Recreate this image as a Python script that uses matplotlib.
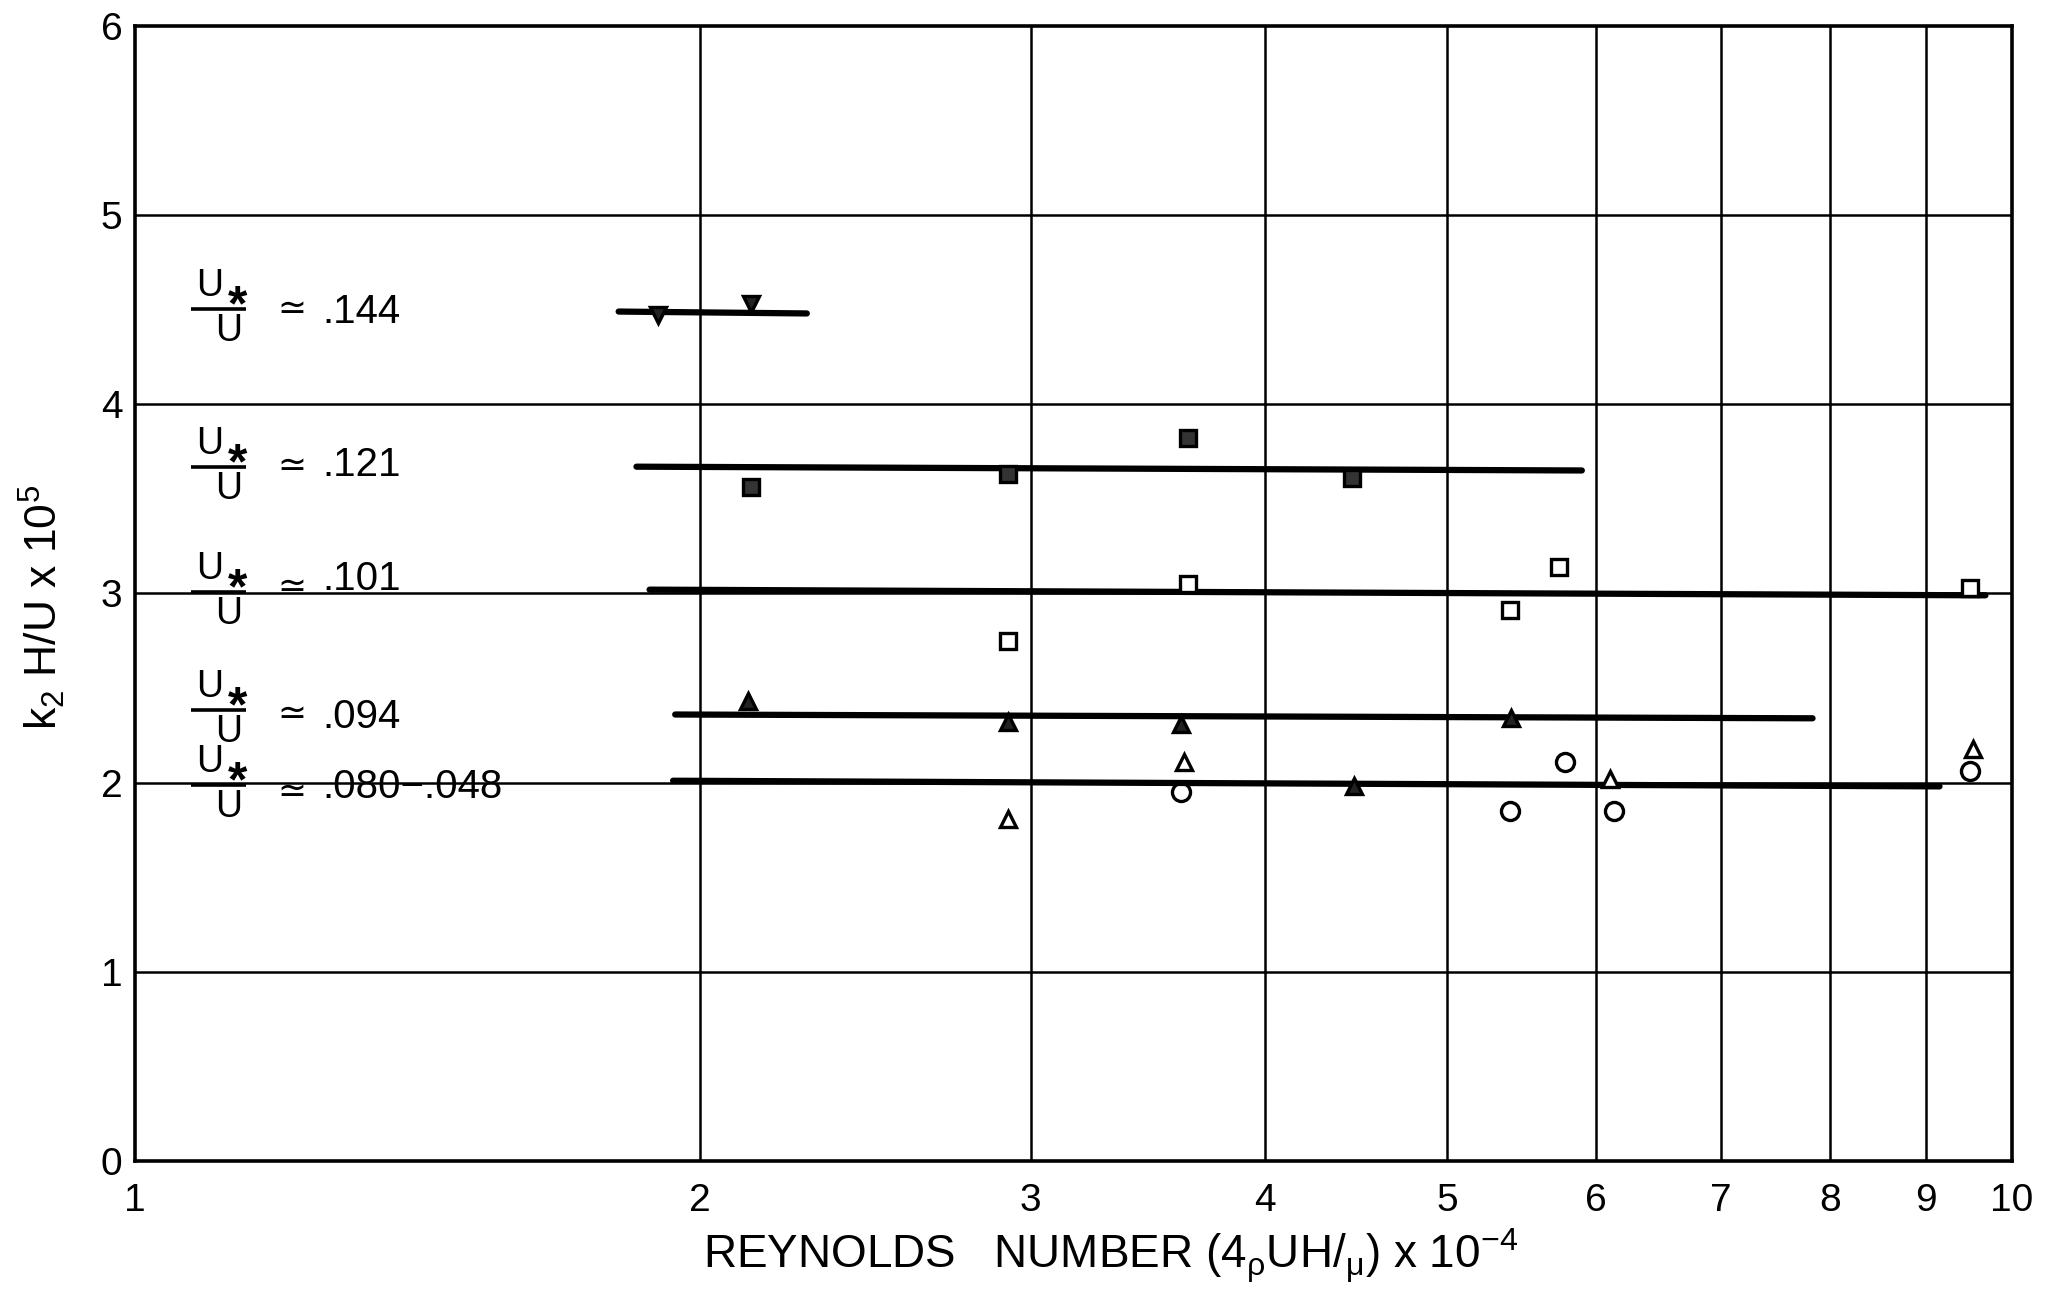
import numpy as np
import matplotlib
matplotlib.use('Agg')
import matplotlib.pyplot as plt

plt.rcParams['font.family'] = ['Liberation Sans', 'DejaVu Sans']
plt.rcParams['mathtext.fontset'] = 'custom'
plt.rcParams['mathtext.rm'] = 'Liberation Sans'
plt.rcParams['mathtext.it'] = 'Liberation Sans'
plt.rcParams['mathtext.bf'] = 'Liberation Sans:bold'
plt.rcParams['mathtext.fallback'] = 'stixsans'

# ── data ──
# U*/U ~ .144  (inverted triangles)
inv_tri_x = [1.90, 2.13]
inv_tri_y = [4.47, 4.53]
# U*/U ~ .121  (hatched squares)
hsq_x = [2.13, 2.92, 3.64, 4.45]
hsq_y = [3.56, 3.63, 3.82, 3.61]
# U*/U ~ .101  (open squares)
sq_x = [2.92, 3.64, 5.40, 5.74, 9.50]
sq_y = [2.75, 3.05, 2.91, 3.14, 3.03]
# U*/U ~ .094  (hatched triangles)
htri_x = [2.12, 2.92, 3.61, 5.41, 4.46]
htri_y = [2.43, 2.32, 2.31, 2.34, 1.98]
# U*/U ~ .080-.048  (open triangles + circles)
otri_x = [2.92, 3.62, 6.11, 9.53]
otri_y = [1.81, 2.11, 2.02, 2.18]
circ_x = [3.61, 5.40, 5.78, 6.14, 9.50]
circ_y = [1.95, 1.85, 2.11, 1.85, 2.06]

# hand-drawn mean lines
fit_x0 = [1.81, 1.85, 1.88, 1.94, 1.935]
fit_x1 = [2.28, 5.90, 9.68, 7.83, 9.15]
fit_y0 = [4.49, 3.67, 3.02, 2.36, 2.01]
fit_y1 = [4.48, 3.65, 2.99, 2.34, 1.98]

# U*/U labels: value text, height of fraction bar / text centre
ratio_labels = ['.144', '.121', '.101', '.094', '.080\u2212.048']
frac_bar_y = [4.506, 3.67, 3.01, 2.385, 1.99]
ratio_text_y = [4.50, 3.69, 3.09, 2.36, 1.99]
approx_y = [4.50, 3.67, 3.03, 2.36, 1.95]

x_ticks = [1, 2, 3, 4, 5, 6, 7, 8, 9, 10]
y_ticks = [0, 1, 2, 3, 4, 5, 6]

fig = plt.figure(figsize=(20.61, 12.95), dpi=100)
ax = fig.add_axes([0.0655, 0.1035, 0.9107, 0.8765])
ax.set_xscale('log')
ax.set_xlim(1, 10)
ax.set_ylim(0, 6)

for x in x_ticks[1:-1]:
    ax.axvline(x, color='black', lw=1.8, zorder=1)
for y in y_ticks[1:-1]:
    ax.axhline(y, color='black', lw=1.8, zorder=1)

for x0, x1, y0, y1 in zip(fit_x0, fit_x1, fit_y0, fit_y1):
    ax.plot([x0, x1], [y0, y1], color='black', lw=4.5, solid_capstyle='round', zorder=2)

ms_kw = dict(linestyle='none', markeredgecolor='black', markeredgewidth=2.4, zorder=3)
ax.plot(inv_tri_x, inv_tri_y, marker='v', markersize=12, markerfacecolor='#222222', **ms_kw)
ax.plot(hsq_x, hsq_y, marker='s', markersize=11, markerfacecolor='#333333', **ms_kw)
ax.plot(sq_x, sq_y, marker='s', markersize=11, markerfacecolor='white', **ms_kw)
ax.plot(htri_x, htri_y, marker='^', markersize=12, markerfacecolor='#222222', **ms_kw)
ax.plot(otri_x, otri_y, marker='^', markersize=12, markerfacecolor='white', **ms_kw)
ax.plot(circ_x, circ_y, marker='o', markersize=13, linestyle='none',
        markeredgecolor='black', markeredgewidth=2.4, zorder=3, fillstyle='none')

# U*/U labels on the left, built up by hand like the typed original
tr = ax.get_yaxis_transform()
for lab, yb, yt, ya in zip(ratio_labels, frac_bar_y, ratio_text_y, approx_y):
    ax.plot([0.030, 0.059], [yb, yb], transform=tr, color='black', lw=2.6,
            solid_capstyle='butt', clip_on=False)
    ax.text(0.040, yb + 0.065, 'U', transform=tr, ha='center', va='baseline', fontsize=27)
    ax.text(0.0545, yb + 0.008, '*', transform=tr, ha='center', va='center',
            fontsize=36, fontweight='bold')
    ax.text(0.050, yb - 0.172, 'U', transform=tr, ha='center', va='baseline', fontsize=27)
    ax.text(0.0835, ya, '\u2243', transform=tr, ha='center', va='center', fontsize=25)
    ax.text(0.100, yt - 0.07, lab, transform=tr, ha='left', va='baseline', fontsize=29)

ax.set_xticks(x_ticks)
ax.set_xticklabels([str(v) for v in x_ticks])
ax.xaxis.set_minor_locator(plt.NullLocator())
ax.set_yticks(y_ticks)
ax.tick_params(axis='both', length=0, labelsize=28)
ax.tick_params(axis='x', pad=16)
ax.tick_params(axis='y', pad=9)

for s in ax.spines.values():
    s.set_linewidth(2.6)
    s.set_color('black')

ax.set_xlabel(r'REYNOLDS   NUMBER (4$_{\rho}$UH/$_{\mu}$) x 10$^{-4}$', fontsize=33)
ax.xaxis.set_label_coords(0.52, -0.058)
ax.set_ylabel(r'k$_2$ H/U x 10$^5$', fontsize=32)
ax.yaxis.set_label_coords(-0.036, 0.488)

fig.savefig('out.png', dpi=100, facecolor='white')
